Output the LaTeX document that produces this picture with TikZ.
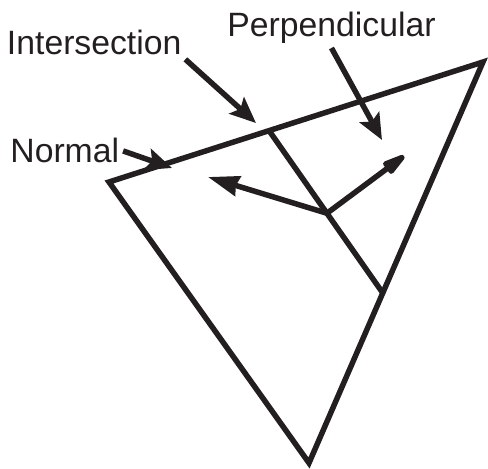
\documentclass[tikz,border=0pt]{standalone}
\usepackage{fontspec}
\setmainfont{Liberation Sans}
\usepackage{xcolor}
\usetikzlibrary{arrows.meta,calc}
\definecolor{ink}{RGB}{35,31,32}

\begin{document}
\begin{tikzpicture}[x=0.02cm,y=-0.02cm,>=Stealth,
 edge/.style={line width=0.11cm,draw=ink},
 pointer/.style={->,line width=0.11cm,draw=ink,
   >={Stealth[length=0.52cm,width=0.44cm,inset=0.1cm]}},
 vec/.style={->,line width=0.11cm,draw=ink},
 tag/.style={font=\fontsize{19.2pt}{23pt}\selectfont,text=ink,
   inner sep=0pt,outer sep=0.08cm,anchor=base west}]
\useasboundingbox (0,0) rectangle (488,469);
% Triangle and the cut through it.
\coordinate (A) at (109,182);
\coordinate (B) at (483,62);
\coordinate (C) at (309,463);
\draw[edge] (A)--(B)--(C)--cycle;
\coordinate (top) at ($(A)!0.428!(B)$);
\coordinate (side) at ($(B)!0.576!(C)$);
\coordinate (P) at ($(top)!0.509!(side)$);
\draw[edge] (top)--(side);
% Normal and perpendicular vectors from the foot point.
\coordinate (ntip) at (208,177);
\coordinate (ptip) at (404,156);
\draw[vec,>={Stealth[length=0.62cm,width=0.4cm,inset=0.04cm]}] (P)--(ntip);
\draw[vec,line cap=round,>={Stealth[length=0.62cm,width=0.3cm,inset=0.02cm,round]}]
  (P)--(ptip);
% Labels and their pointers.
\node[tag] (ins) at (3,55) {Intersection};
\node[tag] (per) at (223.4,37) {Perpendicular};
\node[tag] (nrm) at (6.4,163) {Normal};
\coordinate (itip) at (256,123);
\coordinate (qtip) at (382,140);
\coordinate (mtip) at (172,168);
\draw[pointer] (ins.south east)--(itip);
\draw[pointer] (per.south)--(qtip);
\draw[pointer] (nrm.east)--(mtip);
\end{tikzpicture}
\end{document}
